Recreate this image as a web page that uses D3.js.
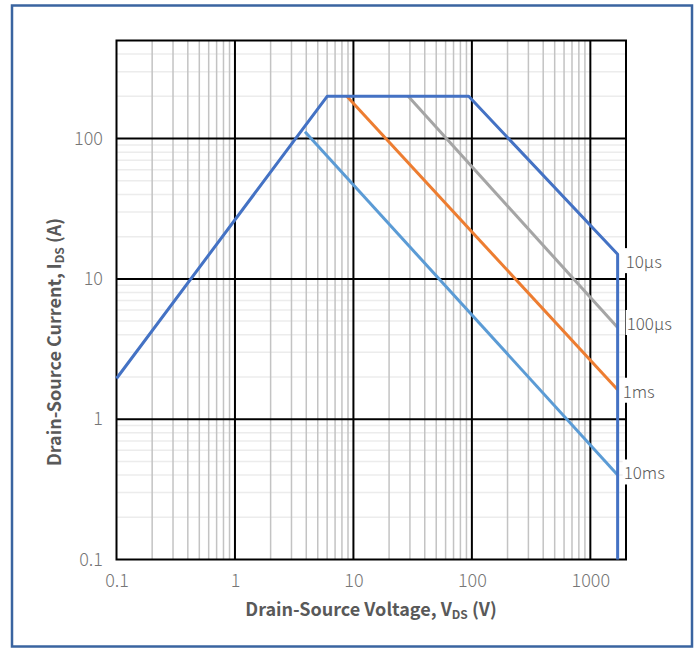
<!DOCTYPE html>
<html><head><meta charset="utf-8">
<script src="https://cdn.jsdelivr.net/npm/d3@7"></script>
<style>body{margin:0;background:#fff}</style>
</head><body>
<svg id="c" width="698" height="649"></svg>
<script>
const xTicks = [0.1, 1, 10, 100, 1000];
const yTicks = [0.1, 1, 10, 100];
const xTickLabels = ["0.1", "1", "10", "100", "1000"];
const yTickLabels = ["0.1", "1", "10", "100"];
const seriesNames = ["10µs", "100µs", "1ms", "10ms"];
const seriesColors = ["#4472C4", "#A5A5A5", "#ED7D31", "#5B9BD5"];
const s10us_V = [0.1, 6, 94, 1700, 1700];
const s10us_I = [1.95, 200, 200, 15, 0.1];
const s100us_V = [29, 1700];
const s100us_I = [200, 4.5];
const s1ms_V = [8.8, 1700];
const s1ms_I = [200, 1.62];
const s10ms_V = [3.9, 1700];
const s10ms_I = [112, 0.4];

const svg = d3.select("#c");
const font = "'Noto Sans CJK SC','Noto Sans',sans-serif";
const L = 116.5, R = 626, T = 40.5, B = 559.5;
const x = d3.scaleLog().domain([0.1, 2000]).range([L, R]);
const y = d3.scaleLog().domain([0.1, 500]).range([B, T]);

svg.append("rect").attr("x", 12).attr("y", 5.5).attr("width", 680).attr("height", 641)
  .attr("fill", "#fff").attr("stroke", "#3A64A0").attr("stroke-width", 2.5);

// minor grid
const minorY = [], minorX = [];
[0.1, 1, 10, 100].forEach(d => { for (let k = 2; k <= 9; k++) { const v = d * k; if (v < 500) minorY.push(v); } });
[0.1, 1, 10, 100].forEach(d => { for (let k = 2; k <= 9; k++) minorX.push(d * k); });
svg.append("g").selectAll("line").data(minorY).join("line")
  .attr("x1", L).attr("x2", R).attr("y1", d => y(d)).attr("y2", d => y(d))
  .attr("stroke", "#ececec").attr("stroke-width", 1.5);
svg.append("g").selectAll("line").data(minorX).join("line")
  .attr("y1", T).attr("y2", B).attr("x1", d => x(d)).attr("x2", d => x(d))
  .attr("stroke", "#c3c3c3").attr("stroke-width", 1.5);
// major grid
svg.append("g").selectAll("line").data(yTicks.slice(1)).join("line")
  .attr("x1", L).attr("x2", R).attr("y1", d => y(d)).attr("y2", d => y(d))
  .attr("stroke", "#000").attr("stroke-width", 2);
svg.append("g").selectAll("line").data(xTicks.slice(1)).join("line")
  .attr("y1", T).attr("y2", B).attr("x1", d => x(d)).attr("x2", d => x(d))
  .attr("stroke", "#000").attr("stroke-width", 2);
svg.append("rect").attr("x", L).attr("y", T).attr("width", R - L).attr("height", B - T)
  .attr("fill", "none").attr("stroke", "#000").attr("stroke-width", 2);

// axes text
const xa = d3.axisBottom(x).tickValues(xTicks).tickFormat((d, i) => xTickLabels[i]).tickSize(0).tickPadding(14.5);
const gx = svg.append("g").attr("transform", `translate(0,${B})`).call(xa);
gx.select(".domain").remove();
gx.selectAll("text").attr("fill", "#767676").style("font-family", font).style("font-size", "18px").style("font-weight", "300");
const ya = d3.axisLeft(y).tickValues(yTicks).tickFormat((d, i) => yTickLabels[i]).tickSize(0).tickPadding(13.5);
const gy = svg.append("g").attr("transform", `translate(${L},0)`).call(ya);
gy.select(".domain").remove();
gy.selectAll("text").attr("fill", "#767676").style("font-family", font).style("font-size", "18px").style("font-weight", "300");

// series
const line = d3.line().x(d => x(d[0])).y(d => y(d[1]));
const series = [
  [s10ms_V, s10ms_I, 3], [s1ms_V, s1ms_I, 2], [s100us_V, s100us_I, 1], [s10us_V, s10us_I, 0]
];
series.forEach(([vs, is, ci]) => {
  svg.append("path").datum(vs.map((v, i) => [v, is[i]]))
    .attr("d", line).attr("fill", "none").attr("stroke", seriesColors[ci])
    .attr("stroke-width", 3).attr("stroke-linejoin", "round");
});

// labels
const labelPts = [[s10us_V[3], s10us_I[3], 0, 8, 8], [s100us_V[1], s100us_I[1], 1, 9, -3.5], [s1ms_V[1], s1ms_I[1], 2, 5, 2], [s10ms_V[1], s10ms_I[1], 3, 6, -1.5]];
labelPts.forEach(([v, c, i, dx, dy]) => {
  const t = svg.append("text").attr("x", x(v) + dx).attr("y", y(c) + dy).attr("dy", "0.35em")
    .attr("fill", "#595959").style("font-family", font).style("font-size", "17px").style("font-weight", "300").text(seriesNames[i]);
  const bb = t.node().getBBox();
  svg.insert("rect", () => t.node()).attr("x", bb.x - 1).attr("y", bb.y).attr("width", bb.width + 2).attr("height", bb.height).attr("fill", "#fff");
});

// titles
const xt = svg.append("text").attr("x", 371).attr("y", 616).attr("text-anchor", "middle")
  .attr("fill", "#595959").style("font-family", font).style("font-size", "18px").style("font-weight", "bold");
xt.append("tspan").text("Drain-Source Voltage, V");
xt.append("tspan").attr("font-size", "12px").attr("dy", 3).text("DS");
xt.append("tspan").attr("dy", -3).text(" (V)");
const yt = svg.append("text").attr("transform", "translate(61,342) rotate(-90)").attr("text-anchor", "middle")
  .attr("fill", "#595959").style("font-family", font).style("font-size", "18px").style("font-weight", "bold");
yt.append("tspan").text("Drain-Source Current, I");
yt.append("tspan").attr("font-size", "12px").attr("dy", 3).text("DS");
yt.append("tspan").attr("dy", -3).text(" (A)");
</script>
</body></html>
